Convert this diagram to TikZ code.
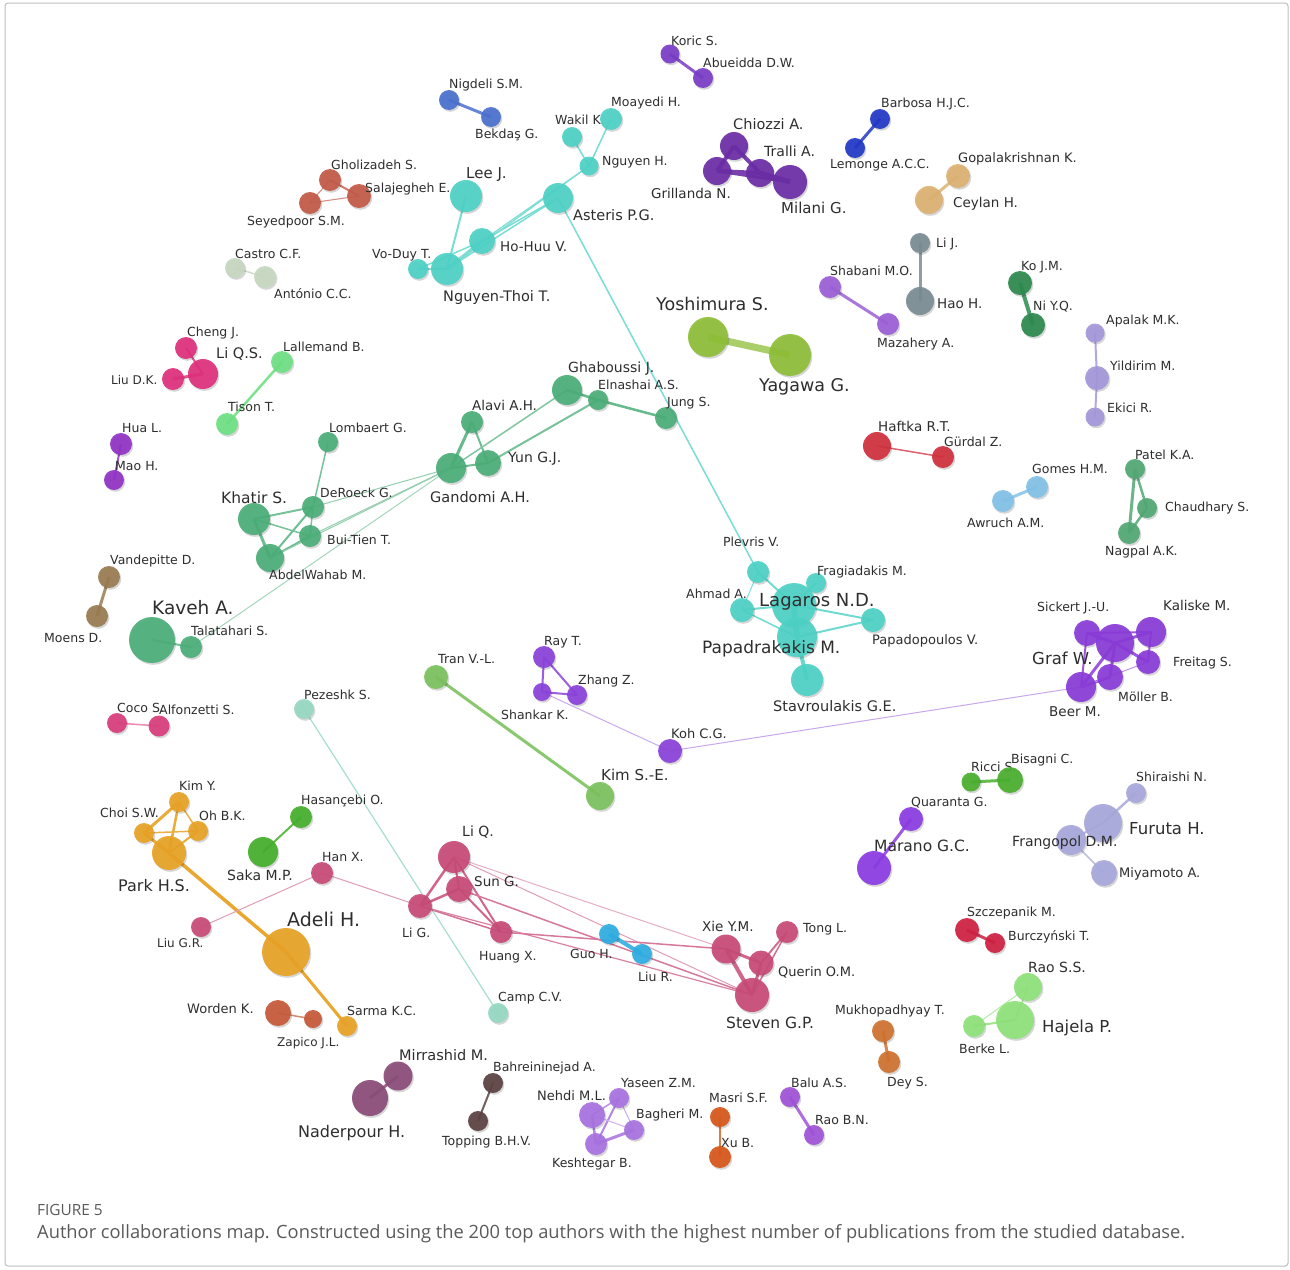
\documentclass[tikz,border=0pt]{standalone}
\usepackage{fontspec}
\setmainfont{DejaVu Sans}
\newfontfamily\capfont{Open Sans}
\pgfdeclarelayer{bg}
\pgfdeclarelayer{paper}
\pgfsetlayers{paper,bg,main}
\definecolor{labtext}{HTML}{2E2E2E}
\definecolor{capgray}{HTML}{5A5A5A}
\definecolor{cKoric}{HTML}{7A3CC6}
\definecolor{cNig}{HTML}{4B70CF}
\definecolor{cTeal}{HTML}{4ED2C6}
\definecolor{cChi}{HTML}{6C2DA6}
\definecolor{cBar}{HTML}{2238C6}
\definecolor{cTan}{HTML}{DDB272}
\definecolor{cGray}{HTML}{7A8C93}
\definecolor{cShab}{HTML}{9B5FD6}
\definecolor{cKo}{HTML}{2D8A4F}
\definecolor{cLav}{HTML}{A597DA}
\definecolor{cYos}{HTML}{8EBF38}
\definecolor{cGho}{HTML}{C35A47}
\definecolor{cCas}{HTML}{C6D8C0}
\definecolor{cMag}{HTML}{E0307C}
\definecolor{cLgr}{HTML}{6EE083}
\definecolor{cHua}{HTML}{9232C6}
\definecolor{cGan}{HTML}{4BAE78}
\definecolor{cBrn}{HTML}{9A7B52}
\definecolor{cCoco}{HTML}{D93C7C}
\definecolor{cPez}{HTML}{97D9C2}
\definecolor{cTran}{HTML}{7CC25E}
\definecolor{cRay}{HTML}{8A42DA}
\definecolor{cGraf}{HTML}{8A3BD8}
\definecolor{cRic}{HTML}{4AAF2E}
\definecolor{cQua}{HTML}{8C3BE3}
\definecolor{cFur}{HTML}{A8A8DC}
\definecolor{cOra}{HTML}{E8A225}
\definecolor{cHas}{HTML}{45AF2C}
\definecolor{cPink}{HTML}{C84B78}
\definecolor{cGuo}{HTML}{2EAEE2}
\definecolor{cRust}{HTML}{C65A38}
\definecolor{cPlum}{HTML}{8B4C79}
\definecolor{cDbr}{HTML}{5C4242}
\definecolor{cNeh}{HTML}{A872E0}
\definecolor{cMas}{HTML}{D8571A}
\definecolor{cBalu}{HTML}{A052D8}
\definecolor{cMuk}{HTML}{D0722F}
\definecolor{cCri}{HTML}{D02042}
\definecolor{cLgg}{HTML}{8FE27A}
\definecolor{cRed}{HTML}{D0303C}
\definecolor{cLbl}{HTML}{82C2E8}
\definecolor{cPat}{HTML}{52A874}
\tikzset{
  lbl/.style={inner sep=0pt, text=labtext, anchor=west},
  authornode/.style={circle, fill opacity=.92, inner sep=0pt},
  shadowfill/.style={black, opacity=.16},
  capstyle/.style={inner sep=0pt, anchor=west, text=capgray}
}
\newcommand\au[9]{%
  \fill[shadowfill] (#2+1.3,#3+1.8) circle[radius=#4pt];
  \node[authornode, fill=#5, minimum size={2*#4pt}] (#1) at (#2,#3) {};
  \node[lbl, font=\fontsize{#9}{#9}\selectfont] (#1-l) at (#6,#7) {#8};
}
\newcommand\ed[4]{\begin{pgfonlayer}{bg}\draw[line width=#3pt, draw=#4] (#1.center) -- (#2.center);\end{pgfonlayer}}
\begin{document}
\begin{tikzpicture}[x=1pt,y=-1pt]
\useasboundingbox (0,0) rectangle (1290,1269);
\begin{pgfonlayer}{paper}
\fill[white] (0,0) rectangle (1290,1269);
\draw[black!25, line width=1pt, rounded corners=3pt] (5,3) rectangle (1288,1266);
\end{pgfonlayer}

% ---- authors ----
\au{koric}{670}{54}{9.5}{cKoric}{671}{41}{Koric S.}{12.5}
\au{abueidda}{703}{78}{10}{cKoric}{703}{63}{Abueidda D.W.}{12.5}
\au{nigdeli}{449}{100}{10}{cNig}{449}{85}{Nigdeli S.M.}{12.5}
\au{bekdas}{491}{117}{10}{cNig}{475}{135}{Bekdaş G.}{12.5}
\au{wakil}{572}{137}{10}{cTeal}{555}{120}{Wakil K.}{12.5}
\au{moayedi}{611}{119}{11}{cTeal}{611}{103}{Moayedi H.}{12.5}
\au{nguyenh}{589}{166}{9.5}{cTeal}{602}{162}{Nguyen H.}{12.5}
\au{asteris}{558}{198}{15}{cTeal}{573}{215}{Asteris P.G.}{14.5}
\au{leej}{466}{196}{16}{cTeal}{466}{175}{Lee J.}{15}
\au{hohuu}{482}{241}{13}{cTeal}{500}{247}{Ho-Huu V.}{13.5}
\au{nthoi}{447}{269}{16}{cTeal}{443}{297}{Nguyen-Thoi T.}{14.5}
\au{voduy}{418}{269}{10}{cTeal}{372}{255}{Vo-Duy T.}{12.5}
\au{chiozzi}{734}{146}{14}{cChi}{733}{124}{Chiozzi A.}{14.5}
\au{tralli}{760}{173}{14}{cChi}{764}{151}{Tralli A.}{14}
\au{grillanda}{717}{171}{14}{cChi}{651}{193}{Grillanda N.}{13.5}
\au{milani}{790}{182}{17}{cChi}{781}{208}{Milani G.}{15}
\au{barbosa}{880}{119}{10}{cBar}{881}{104}{Barbosa H.J.C.}{12.5}
\au{lemonge}{855}{148}{10}{cBar}{830}{165}{Lemonge A.C.C.}{12.5}
\au{gopal}{958}{176}{12}{cTan}{958}{159}{Gopalakrishnan K.}{13}
\au{ceylan}{929}{200}{14}{cTan}{953}{204}{Ceylan H.}{13.5}
\au{lij}{920}{243}{10}{cGray}{936}{244}{Li J.}{12.5}
\au{haoh}{920}{301}{14}{cGray}{937}{304}{Hao H.}{13.5}
\au{shabani}{830}{287}{11}{cShab}{830}{271}{Shabani M.O.}{12.5}
\au{mazahery}{888}{324}{11}{cShab}{877}{344}{Mazahery A.}{12.5}
\au{kojm}{1020}{283}{12}{cKo}{1021}{267}{Ko J.M.}{12.5}
\au{niyq}{1033}{325}{12}{cKo}{1033}{307}{Ni Y.Q.}{12.5}
\au{apalak}{1095}{333}{9.5}{cLav}{1106}{321}{Apalak M.K.}{12.5}
\au{yildirim}{1097}{378}{12}{cLav}{1110}{366}{Yildirim M.}{12.5}
\au{ekici}{1095}{417}{9.5}{cLav}{1107}{408}{Ekici R.}{12.5}
\au{yoshimura}{708}{337}{20}{cYos}{656}{304}{Yoshimura S.}{17.5}
\au{yagawa}{790}{355}{21}{cYos}{759}{387}{Yagawa G.}{17.5}
\au{gholizadeh}{330}{180}{11}{cGho}{331}{165}{Gholizadeh S.}{12.5}
\au{salajegheh}{359}{196}{12}{cGho}{365}{189}{Salajegheh E.}{12.5}
\au{seyedpoor}{310}{203}{11}{cGho}{247}{222}{Seyedpoor S.M.}{12.5}
\au{castro}{235}{268}{10}{cCas}{235}{254}{Castro C.F.}{12.5}
\au{antonio}{265}{277}{11}{cCas}{274}{294}{António C.C.}{12.5}
\au{chengj}{186}{348}{11}{cMag}{187}{333}{Cheng J.}{12.5}
\au{liqs}{203}{374}{15}{cMag}{216}{354}{Li Q.S.}{14.5}
\au{liudk}{173}{379}{11}{cMag}{111}{380}{Liu D.K.}{12}
\au{lallemand}{282}{362}{11}{cLgr}{283}{347}{Lallemand B.}{12.5}
\au{tison}{227}{424}{11}{cLgr}{228}{407}{Tison T.}{12.5}
\au{hual}{121}{444}{11}{cHua}{122}{428}{Hua L.}{12.5}
\au{maoh}{114}{480}{10}{cHua}{115}{466}{Mao H.}{12.5}
\au{lombaert}{328}{442}{10}{cGan}{329}{428}{Lombaert G.}{12.5}
\au{khatir}{254}{519}{16}{cGan}{221}{498}{Khatir S.}{15.5}
\au{deroeck}{313}{507}{11}{cGan}{320}{493}{DeRoeck G.}{12.5}
\au{buitien}{310}{536}{11}{cGan}{327}{540}{Bui-Tien T.}{12.5}
\au{abdel}{270}{558}{14}{cGan}{269}{575}{AbdelWahab M.}{12.5}
\au{alavi}{472}{422}{11}{cGan}{472}{405}{Alavi A.H.}{13.5}
\au{gandomi}{451}{468}{15}{cGan}{430}{497}{Gandomi A.H.}{14.5}
\au{yun}{488}{463}{13}{cGan}{508}{459}{Yun G.J.}{14}
\au{ghaboussi}{567}{390}{15}{cGan}{568}{369}{Ghaboussi J.}{14}
\au{elnashai}{598}{400}{10}{cGan}{598}{385}{Elnashai A.S.}{12.5}
\au{jung}{666}{418}{11}{cGan}{667}{403}{Jung S.}{12.5}
\au{kaveh}{152}{640}{23}{cGan}{152}{608}{Kaveh A.}{18.5}
\au{talatahari}{191}{647}{11}{cGan}{191}{631}{Talatahari S.}{12.5}
\au{vandepitte}{109}{577}{11}{cBrn}{110}{561}{Vandepitte D.}{12.5}
\au{moens}{97}{616}{11}{cBrn}{44}{638}{Moens D.}{12.5}
\au{coco}{117}{723}{10}{cCoco}{117}{708}{Coco S.}{12.5}
\au{alfonzetti}{159}{726}{10.5}{cCoco}{159}{710}{Alfonzetti S.}{12.5}
\au{pezeshk}{304}{709}{10}{cPez}{304}{695}{Pezeshk S.}{12.5}
\au{camp}{498}{1013}{10}{cPez}{498}{998}{Camp C.V.}{12.5}
\au{tran}{436}{677}{12}{cTran}{438}{659}{Tran V.-L.}{12.5}
\au{kimse}{600}{796}{14}{cTran}{601}{775}{Kim S.-E.}{15}
\au{rayt}{544}{657}{11}{cRay}{544}{642}{Ray T.}{12.5}
\au{zhangz}{577}{695}{10}{cRay}{578}{681}{Zhang Z.}{12.5}
\au{shankar}{542}{692}{9}{cRay}{501}{715}{Shankar K.}{12.5}
\au{koh}{670}{751}{12}{cRay}{671}{734}{Koh C.G.}{13}
\au{plevris}{758}{572}{11}{cTeal}{723}{542}{Plevris V.}{12.5}
\au{fragiadakis}{816}{583}{10}{cTeal}{817}{572}{Fragiadakis M.}{12.5}
\au{ahmad}{742}{610}{12}{cTeal}{686}{594}{Ahmad A.}{12.5}
\au{lagaros}{794}{605}{22}{cTeal}{759}{602}{Lagaros N.D.}{18}
\au{papadrakakis}{797}{637}{20}{cTeal}{702}{649}{Papadrakakis M.}{17}
\au{papadopoulos}{873}{620}{12}{cTeal}{872}{641}{Papadopoulos V.}{13}
\au{stavroulakis}{807}{680}{16}{cTeal}{773}{706}{Stavroulakis G.E.}{14.5}
\au{sickert}{1087}{633}{13}{cGraf}{1037}{608}{Sickert J.-U.}{12.5}
\au{kaliske}{1151}{632}{15}{cGraf}{1163}{605}{Kaliske M.}{13.5}
\au{graf}{1115}{643}{19}{cGraf}{1032}{658}{Graf W.}{16.5}
\au{freitag}{1148}{662}{12}{cGraf}{1173}{663}{Freitag S.}{12.5}
\au{moller}{1110}{677}{13}{cGraf}{1118}{697}{Möller B.}{12.5}
\au{beer}{1081}{687}{15}{cGraf}{1049}{712}{Beer M.}{13.5}
\au{ricci}{971}{782}{9.5}{cRic}{971}{767}{Ricci S.}{12.5}
\au{bisagni}{1010}{780}{13}{cRic}{1011}{760}{Bisagni C.}{12.5}
\au{quaranta}{911}{819}{12}{cQua}{911}{803}{Quaranta G.}{12.5}
\au{marano}{874}{868}{17}{cQua}{874}{846}{Marano G.C.}{15.5}
\au{shiraishi}{1136}{793}{10}{cFur}{1136}{777}{Shiraishi N.}{12.5}
\au{furuta}{1103}{823}{19}{cFur}{1129}{829}{Furuta H.}{16.5}
\au{frangopol}{1071}{840}{15}{cFur}{1012}{843}{Frangopol D.M.}{14}
\au{miyamoto}{1104}{873}{13}{cFur}{1119}{874}{Miyamoto A.}{13}
\au{kimy}{179}{802}{10}{cOra}{179}{786}{Kim Y.}{12.5}
\au{choi}{144}{833}{10}{cOra}{100}{813}{Choi S.W.}{12.5}
\au{oh}{198}{831}{10}{cOra}{199}{816}{Oh B.K.}{12.5}
\au{park}{169}{853}{17}{cOra}{118}{886}{Park H.S.}{16}
\au{adeli}{286}{952}{24}{cOra}{287}{919}{Adeli H.}{19}
\au{sarma}{347}{1026}{10}{cOra}{347}{1011}{Sarma K.C.}{12.5}
\au{hasancebi}{301}{817}{11}{cHas}{301}{801}{Hasançebi O.}{12.5}
\au{saka}{263}{852}{15}{cHas}{227}{875}{Saka M.P.}{14}
\au{hanx}{322}{873}{11}{cPink}{322}{857}{Han X.}{12.5}
\au{liugr}{201}{927}{10}{cPink}{157}{943}{Liu G.R.}{12}
\au{lig}{420}{906}{12}{cPink}{402}{933}{Li G.}{12.5}
\au{liq}{454}{857}{16}{cPink}{462}{832}{Li Q.}{14}
\au{sung}{459}{889}{13}{cPink}{474}{882}{Sun G.}{13.5}
\au{huangx}{501}{932}{11}{cPink}{479}{957}{Huang X.}{12.5}
\au{guoh}{609}{934}{10}{cGuo}{570}{954}{Guo H.}{12.5}
\au{liur}{642}{954}{10}{cGuo}{638}{977}{Liu R.}{12.5}
\au{xie}{726}{949}{14.5}{cPink}{702}{926}{Xie Y.M.}{13.5}
\au{tong}{787}{932}{11}{cPink}{803}{929}{Tong L.}{12.5}
\au{querin}{761}{963}{12.5}{cPink}{778}{972}{Querin O.M.}{13}
\au{steven}{752}{995}{17}{cPink}{726}{1023}{Steven G.P.}{15.5}
\au{worden}{278}{1013}{13}{cRust}{187}{1009}{Worden K.}{13}
\au{zapico}{313}{1019}{9}{cRust}{277}{1043}{Zapico J.L.}{12}
\au{mirrashid}{398}{1076}{14.5}{cPlum}{399}{1055}{Mirrashid M.}{14.5}
\au{naderpour}{370}{1098}{18}{cPlum}{298}{1133}{Naderpour H.}{16}
\au{bahrein}{493}{1083}{10}{cDbr}{493}{1068}{Bahreininejad A.}{12.5}
\au{topping}{478}{1121}{10}{cDbr}{442}{1142}{Topping B.H.V.}{12.5}
\au{nehdi}{592}{1115}{13}{cNeh}{537}{1096}{Nehdi M.L.}{13}
\au{yaseen}{619}{1098}{10}{cNeh}{621}{1083}{Yaseen Z.M.}{12.5}
\au{bagheri}{634}{1130}{10}{cNeh}{636}{1115}{Bagheri M.}{12.5}
\au{keshtegar}{596}{1144}{11}{cNeh}{552}{1164}{Keshtegar B.}{12.5}
\au{masri}{720}{1117}{10}{cMas}{709}{1098}{Masri S.F.}{12.5}
\au{xub}{720}{1157}{11}{cMas}{721}{1143}{Xu B.}{12.5}
\au{balu}{790}{1097}{10}{cBalu}{791}{1083}{Balu A.S.}{12.5}
\au{raobn}{814}{1135}{10}{cBalu}{815}{1120}{Rao B.N.}{12.5}
\au{mukho}{883}{1031}{11}{cMuk}{835}{1011}{Mukhopadhyay T.}{12.5}
\au{dey}{889}{1062}{11}{cMuk}{887}{1083}{Dey S.}{12.5}
\au{szczep}{967}{930}{12}{cCri}{967}{913}{Szczepanik M.}{12.5}
\au{burcz}{995}{943}{10}{cCri}{1008}{937}{Burczyński T.}{12.5}
\au{raoss}{1028}{987}{14}{cLgg}{1028}{967}{Rao S.S.}{14}
\au{hajela}{1015}{1020}{19}{cLgg}{1042}{1028}{Hajela P.}{16.5}
\au{berke}{974}{1026}{11}{cLgg}{959}{1049}{Berke L.}{12.5}
\au{haftka}{877}{446}{14}{cRed}{878}{426}{Haftka R.T.}{13.5}
\au{gurdal}{943}{457}{11}{cRed}{944}{442}{Gürdal Z.}{12.5}
\au{gomes}{1037}{487}{11}{cLbl}{1032}{469}{Gomes H.M.}{12.5}
\au{awruch}{1003}{501}{11}{cLbl}{967}{523}{Awruch A.M.}{12.5}
\au{patel}{1135}{469}{10}{cPat}{1135}{455}{Patel K.A.}{12.5}
\au{chaudhary}{1147}{508}{10}{cPat}{1165}{508}{Chaudhary S.}{12.5}
\au{nagpal}{1129}{533}{11}{cPat}{1105}{552}{Nagpal A.K.}{12.5}

% ---- links ----
\ed{koric}{abueidda}{3}{cKoric!85!white}
\ed{nigdeli}{bekdas}{3}{cNig!85!white}
\ed{wakil}{nguyenh}{1.5}{cTeal!75!white}
\ed{moayedi}{nguyenh}{1.5}{cTeal!75!white}
\ed{nguyenh}{hohuu}{1.2}{cTeal!75!white}
\ed{nguyenh}{nthoi}{1.2}{cTeal!75!white}
\ed{asteris}{hohuu}{1.5}{cTeal!75!white}
\ed{asteris}{nthoi}{1.5}{cTeal!75!white}
\ed{leej}{nthoi}{2}{cTeal!75!white}
\ed{hohuu}{nthoi}{3}{cTeal!75!white}
\ed{voduy}{nthoi}{2}{cTeal!75!white}
\ed{voduy}{hohuu}{1.5}{cTeal!75!white}
\ed{asteris}{plevris}{1.5}{cTeal!75!white}
\ed{chiozzi}{grillanda}{4}{cChi!90!white}
\ed{chiozzi}{tralli}{4}{cChi!90!white}
\ed{grillanda}{tralli}{4}{cChi!90!white}
\ed{grillanda}{milani}{3}{cChi!90!white}
\ed{tralli}{milani}{5}{cChi!90!white}
\ed{barbosa}{lemonge}{3}{cBar!85!white}
\ed{gopal}{ceylan}{3}{cTan!85!white}
\ed{lij}{haoh}{3}{cGray!85!white}
\ed{shabani}{mazahery}{3}{cShab!85!white}
\ed{kojm}{niyq}{4}{cKo!85!white}
\ed{apalak}{yildirim}{2}{cLav!85!white}
\ed{yildirim}{ekici}{2}{cLav!85!white}
\ed{yoshimura}{yagawa}{7}{cYos!75!white}
\ed{gholizadeh}{salajegheh}{2}{cGho!80!white}
\ed{gholizadeh}{seyedpoor}{1}{cGho!70!white}
\ed{seyedpoor}{salajegheh}{1}{cGho!70!white}
\ed{castro}{antonio}{1.5}{cCas!85!white}
\ed{chengj}{liqs}{2}{cMag!85!white}
\ed{liudk}{liqs}{3}{cMag!85!white}
\ed{lallemand}{tison}{2.5}{cLgr!90!white}
\ed{hual}{maoh}{2}{cHua!85!white}
\ed{lombaert}{deroeck}{1.5}{cGan!75!white}
\ed{khatir}{deroeck}{2}{cGan!75!white}
\ed{khatir}{buitien}{1.5}{cGan!75!white}
\ed{khatir}{abdel}{3}{cGan!80!white}
\ed{abdel}{deroeck}{2}{cGan!80!white}
\ed{abdel}{buitien}{2}{cGan!80!white}
\ed{deroeck}{buitien}{1.5}{cGan!75!white}
\ed{deroeck}{gandomi}{1}{cGan!60!white}
\ed{buitien}{gandomi}{1}{cGan!60!white}
\ed{abdel}{gandomi}{1}{cGan!60!white}
\ed{talatahari}{gandomi}{1}{cGan!50!white}
\ed{kaveh}{talatahari}{2}{cGan!75!white}
\ed{alavi}{gandomi}{3}{cGan!85!white}
\ed{alavi}{yun}{2}{cGan!80!white}
\ed{gandomi}{yun}{2}{cGan!80!white}
\ed{gandomi}{ghaboussi}{1.5}{cGan!70!white}
\ed{yun}{elnashai}{2}{cGan!75!white}
\ed{ghaboussi}{elnashai}{2.5}{cGan!85!white}
\ed{elnashai}{jung}{2.5}{cGan!85!white}
\ed{vandepitte}{moens}{3}{cBrn!85!white}
\ed{coco}{alfonzetti}{1.5}{cCoco!60!white}
\ed{pezeshk}{camp}{1.2}{cPez!85!white}
\ed{tran}{kimse}{3}{cTran!90!white}
\ed{rayt}{shankar}{2}{cRay!85!white}
\ed{rayt}{zhangz}{2}{cRay!85!white}
\ed{shankar}{zhangz}{2}{cRay!85!white}
\ed{shankar}{koh}{1}{cRay!45!white}
\ed{koh}{beer}{1}{cGraf!45!white}
\ed{plevris}{lagaros}{2}{cTeal!80!white}
\ed{plevris}{ahmad}{1}{cTeal!75!white}
\ed{ahmad}{lagaros}{2}{cTeal!80!white}
\ed{fragiadakis}{lagaros}{2}{cTeal!80!white}
\ed{lagaros}{papadrakakis}{6}{cTeal!85!white}
\ed{lagaros}{papadopoulos}{2}{cTeal!80!white}
\ed{papadrakakis}{papadopoulos}{2}{cTeal!80!white}
\ed{papadrakakis}{stavroulakis}{4}{cTeal!85!white}
\ed{papadrakakis}{ahmad}{1.5}{cTeal!80!white}
\ed{sickert}{graf}{3}{cGraf!85!white}
\ed{sickert}{kaliske}{2}{cGraf!85!white}
\ed{kaliske}{graf}{3}{cGraf!85!white}
\ed{graf}{freitag}{3}{cGraf!85!white}
\ed{kaliske}{freitag}{2}{cGraf!85!white}
\ed{graf}{moller}{3}{cGraf!85!white}
\ed{graf}{beer}{3}{cGraf!85!white}
\ed{beer}{moller}{3}{cGraf!85!white}
\ed{sickert}{beer}{2}{cGraf!85!white}
\ed{beer}{freitag}{1}{cGraf!55!white}
\ed{ricci}{bisagni}{3}{cRic!85!white}
\ed{quaranta}{marano}{3}{cQua!85!white}
\ed{shiraishi}{furuta}{2.5}{cFur!85!white}
\ed{furuta}{frangopol}{2}{cFur!85!white}
\ed{frangopol}{miyamoto}{1.5}{cFur!75!white}
\ed{kimy}{choi}{3}{cOra!90!white}
\ed{kimy}{oh}{1.5}{cOra!85!white}
\ed{kimy}{park}{2.5}{cOra!90!white}
\ed{choi}{oh}{1.5}{cOra!85!white}
\ed{choi}{park}{3}{cOra!90!white}
\ed{oh}{park}{2}{cOra!90!white}
\ed{park}{adeli}{3.5}{cOra!95!white}
\ed{adeli}{sarma}{3}{cOra!95!white}
\ed{hasancebi}{saka}{2}{cHas!85!white}
\ed{hanx}{lig}{1}{cPink!55!white}
\ed{hanx}{liugr}{1}{cPink!55!white}
\ed{lig}{liq}{2.5}{cPink!85!white}
\ed{lig}{sung}{2.5}{cPink!85!white}
\ed{liq}{sung}{2}{cPink!85!white}
\ed{liq}{huangx}{2}{cPink!85!white}
\ed{sung}{huangx}{2}{cPink!85!white}
\ed{lig}{huangx}{1.5}{cPink!80!white}
\ed{liq}{xie}{1}{cPink!45!white}
\ed{liq}{steven}{1}{cPink!55!white}
\ed{sung}{steven}{1.5}{cPink!75!white}
\ed{lig}{steven}{1.2}{cPink!70!white}
\ed{huangx}{xie}{1.5}{cPink!75!white}
\ed{guoh}{liur}{4}{cGuo!90!white}
\ed{xie}{querin}{3}{cPink!85!white}
\ed{xie}{steven}{4}{cPink!85!white}
\ed{querin}{tong}{2}{cPink!80!white}
\ed{tong}{steven}{1.5}{cPink!80!white}
\ed{querin}{steven}{3}{cPink!85!white}
\ed{worden}{zapico}{1.5}{cRust!70!white}
\ed{mirrashid}{naderpour}{3}{cPlum!85!white}
\ed{bahrein}{topping}{2}{cDbr!85!white}
\ed{nehdi}{yaseen}{1.5}{cNeh!80!white}
\ed{nehdi}{keshtegar}{2.5}{cNeh!85!white}
\ed{yaseen}{keshtegar}{2}{cNeh!85!white}
\ed{yaseen}{bagheri}{1}{cNeh!60!white}
\ed{keshtegar}{bagheri}{3}{cNeh!85!white}
\ed{nehdi}{bagheri}{1}{cNeh!55!white}
\ed{masri}{xub}{2}{cMas!80!white}
\ed{balu}{raobn}{3}{cBalu!85!white}
\ed{mukho}{dey}{3}{cMuk!85!white}
\ed{szczep}{burcz}{3}{cCri!85!white}
\ed{raoss}{hajela}{1.5}{cLgg!80!white}
\ed{berke}{hajela}{2}{cLgg!85!white}
\ed{berke}{raoss}{1}{cLgg!70!white}
\ed{haftka}{gurdal}{1.5}{cRed!75!white}
\ed{gomes}{awruch}{3}{cLbl!85!white}
\ed{patel}{chaudhary}{2.5}{cPat!85!white}
\ed{patel}{nagpal}{3}{cPat!85!white}
\ed{chaudhary}{nagpal}{2.5}{cPat!85!white}

% ---- caption ----
\node[capstyle, font=\capfont\fontsize{15.4}{15.4}\selectfont] (figlabel) at (37,1210) {FIGURE 5};
\node[capstyle, font=\capfont\fontsize{18.3}{18.3}\selectfont] (figcaption) at (37,1234) {Author collaborations map. Constructed using the 200 top authors with the highest number of publications from the studied database.};
\end{tikzpicture}
\end{document}
